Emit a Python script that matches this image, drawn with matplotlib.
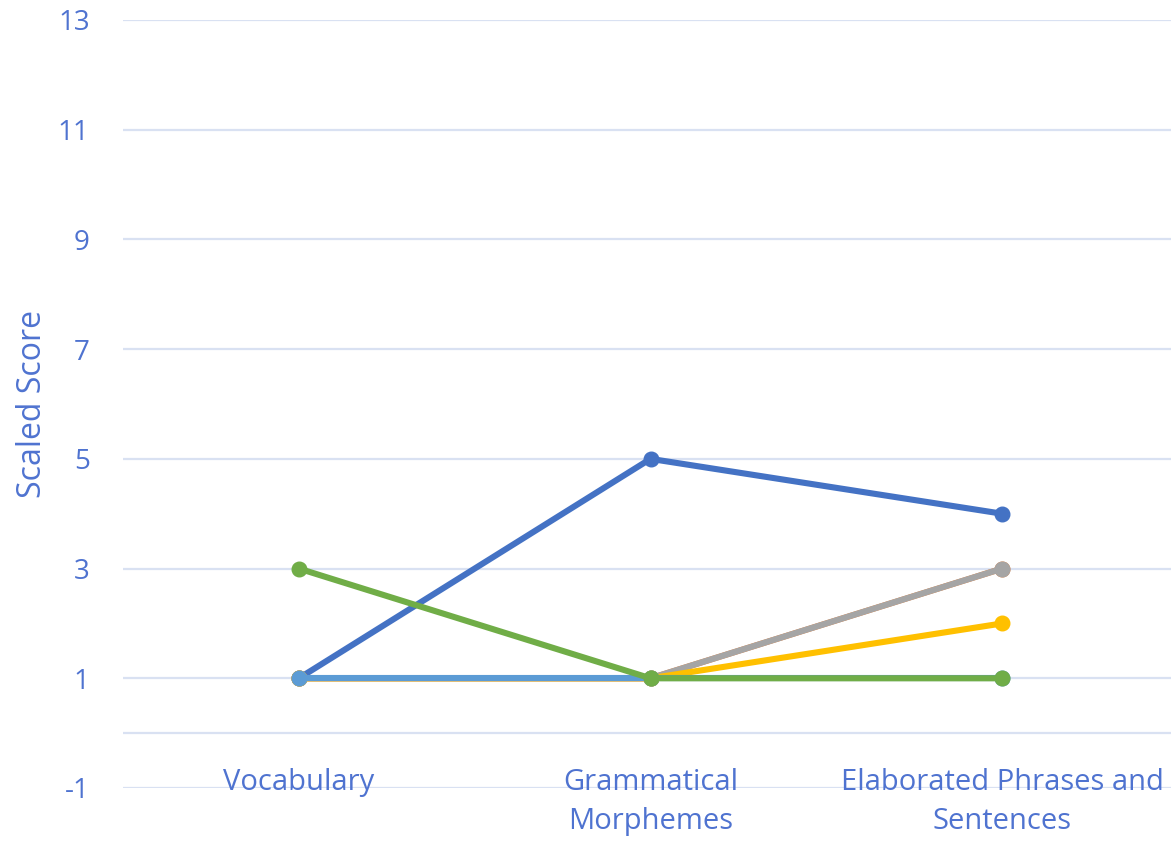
import matplotlib
matplotlib.use("Agg")
import matplotlib.pyplot as plt

categories = ["Vocabulary", "Grammatical\nMorphemes", "Elaborated Phrases and\nSentences"]
series_names = ["Series 1", "Series 2", "Series 3", "Series 4", "Series 5", "Series 6"]
series_values = [
    [1, 5, 4],
    [1, 1, 3],
    [1, 1, 3],
    [1, 1, 2],
    [1, 1, 1],
    [3, 1, 1],
]
series_colors = ["#4472C4", "#ED7D31", "#A5A5A5", "#FFC000", "#5B9BD5", "#70AD47"]
y_ticks = [-1, 1, 3, 5, 7, 9, 11, 13]

text_color = "#4F73D0"
grid_color = "#D9E1F2"

plt.rcParams["font.family"] = ["Open Sans", "DejaVu Sans"]

fig = plt.figure(figsize=(11.71, 8.41), dpi=100)
ax = fig.add_axes([123 / 1171, 53 / 841, 1 - 123 / 1171, 768 / 841])

x = list(range(len(categories)))
for name, vals, col in zip(series_names, series_values, series_colors):
    ax.plot(x, vals, color=col, lw=4.4, marker="o", markersize=10.5,
            solid_capstyle="round", label=name, zorder=3)

ax.set_xlim(-0.5, 2.48)
ax.set_ylim(-1, 13)
ax.set_yticks(y_ticks)
ax.set_yticklabels([str(t) for t in y_ticks])
for t in y_ticks:
    ax.axhline(t, color=grid_color, lw=1.6, zorder=1)
ax.axhline(0, color=grid_color, lw=1.6, zorder=1)

ax.set_xticks(x)
ax.set_xticklabels([])
for xi, lab in zip(x, categories):
    ax.text(xi, -0.63, lab, ha="center", va="top", fontsize=21,
            color=text_color, linespacing=1.45, zorder=4)

for s in ax.spines.values():
    s.set_visible(False)
ax.tick_params(axis="both", length=0)
ax.tick_params(axis="y", labelsize=20, labelcolor=text_color, pad=24)
ax.set_ylabel("Scaled Score", fontsize=23, color=text_color)
ax.yaxis.set_label_coords(-0.071, 0.5)

fig.savefig("out.png", dpi=100)
